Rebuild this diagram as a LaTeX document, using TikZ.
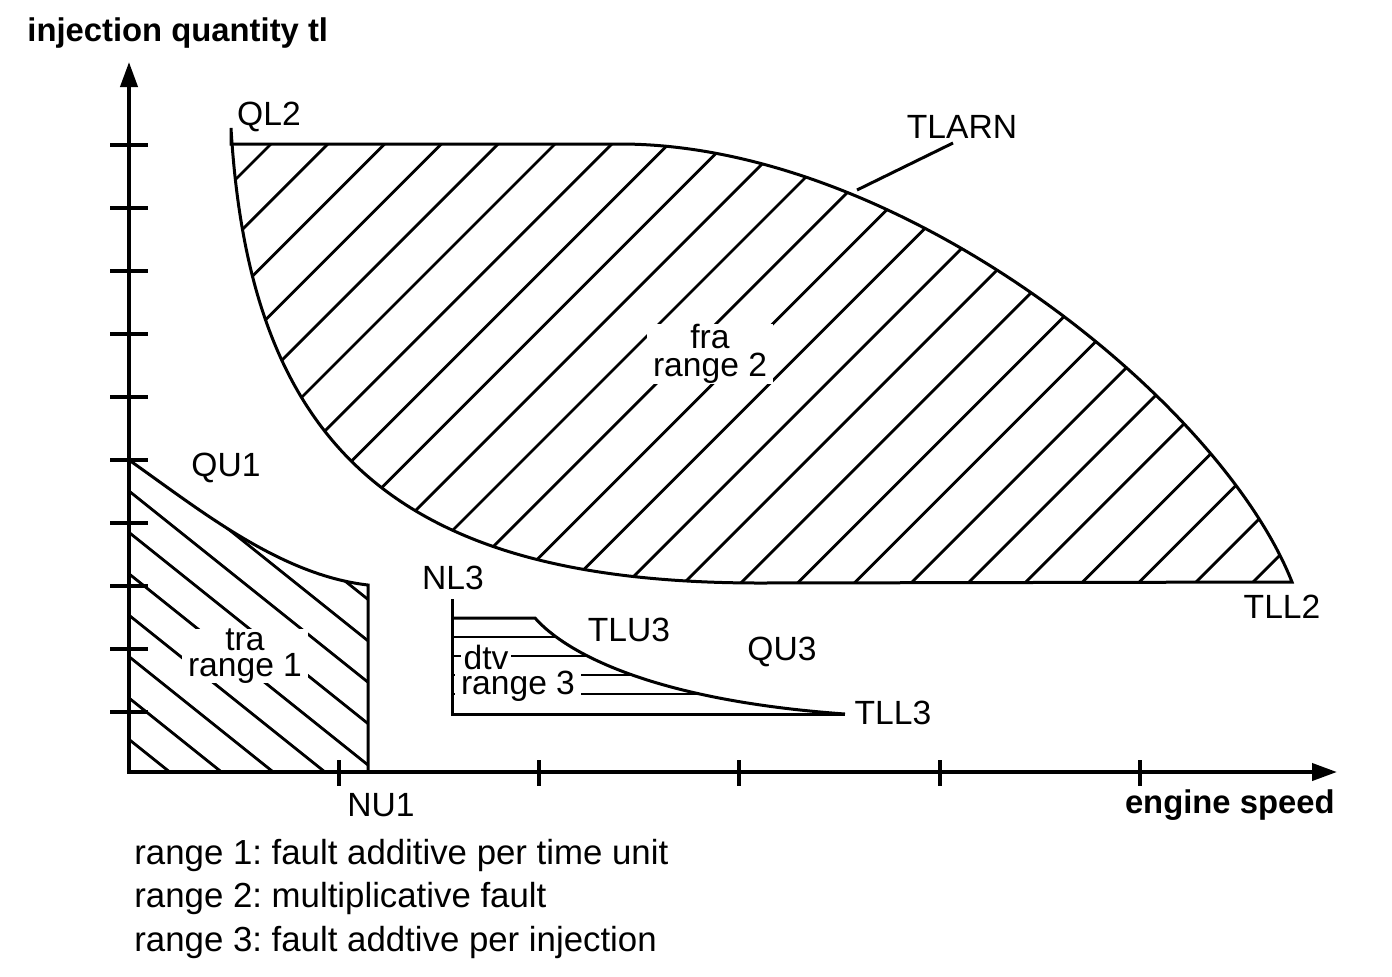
\documentclass[tikz,border=0pt]{standalone}
\usepackage{fontspec}
\setmainfont{Liberation Sans}
\usetikzlibrary{arrows.meta}
\frenchspacing
\begin{document}
\begin{tikzpicture}[x=0.5pt,y=-0.5pt,
  axis/.style={line width=2pt, line join=miter},
  tickmark/.style={line width=1.7pt},
  bound/.style={line width=1.5pt},
  hatch/.style={line width=1.4pt},
  lbl/.style={font=\fontsize{16.8}{20}\selectfont, inner sep=0pt},
  boxlbl/.style={lbl, fill=white, inner xsep=3pt, inner ysep=0pt},
  stacklbl/.style={boxlbl, align=center},
  leglbl/.style={font=\fontsize{17.4}{20}\selectfont, inner sep=0pt, anchor=base west},
  boldlbl/.style={font=\fontsize{16.4}{20}\selectfont\bfseries, inner sep=0pt},
  ]
\useasboundingbox (0,0) rectangle (1392,976);
\fill[white] (0,0) rectangle (1392,976);

\def\regionone{(129,460) .. controls (200,510) and (280,575) .. (368,585) -- (368,772) -- (129,772)}
\def\regiontwo{(231,128) .. controls (250,450) and (400,583) .. (760,583) -- (1292,582) .. controls (1220,400) and (900,144) .. (620,144) -- (231,144)}
\def\regionthree{(452,618) -- (535,618) .. controls (565,652) and (650,700) .. (845,714) -- (452,714)}

% hatching range 1
\begin{scope}
  \clip \regionone -- cycle;
  \foreach \k in {0,...,8} {
    \draw[hatch] (110,{393+41.4*\k}) -- (390,{617+41.4*\k});
  }
\end{scope}

% hatching range 2
\begin{scope}
  \clip \regiontwo -- cycle;
  \foreach \k [evaluate=\k as \cc using 415+56.8*\k] in {0,...,27} {
    \draw[hatch] ({\cc-700},700) -- ({\cc-100},100);
  }
\end{scope}

% hatching range 3
\begin{scope}
  \clip \regionthree -- cycle;
  \foreach \y in {637,656,675,694} {
    \draw[hatch] (440,\y) -- (860,\y);
  }
\end{scope}

% boundaries
\draw[bound] \regionone -- cycle;
\draw[bound] \regiontwo -- cycle;
\draw[bound] (452,599) -- (452,714) -- (845,714);
\draw[bound] (452,618) -- (535,618) .. controls (565,652) and (650,700) .. (845,714);

% axes
\coordinate (O) at (129,772);
\coordinate (ytip) at (129,62);
\coordinate (xtip) at (1337,772);
\draw[axis,{Triangle[length=12.5pt,width=8.5pt]}-{Triangle[length=12.5pt,width=8.5pt]}] (ytip) -- (O) -- (xtip);
\foreach \y in {145,208,...,712} {
  \draw[tickmark] (110,\y) -- (148,\y);
}
\foreach \x in {339,539,739,940,1140} {
  \draw[tickmark] (\x,760) -- (\x,786);
}

% TLARN leader
\coordinate (tlarnfoot) at (953,143);
\coordinate (tlarncurve) at (857,190);
\draw[bound] (tlarnfoot) -- (tlarncurve);

% labels
\node[boldlbl, anchor=base west] (ylab) at (27,41) {injection quantity tl};
\node[boldlbl, anchor=base east] (xlab) at (1335,813) {engine speed};
\node[lbl] (ql2) at (269,117) {QL2};
\node[lbl] (tlarn) at (962,127) {TLARN};
\node[stacklbl, font=\fontsize{16.8}{14}\selectfont] (r2) at (710,354) {fra\\range 2};
\node[lbl] (qu1) at (226,468) {QU1};
\node[stacklbl, font=\fontsize{16.8}{13}\selectfont] (r1) at (245,656) {tra\\range 1};
\node[lbl] (nl3) at (453,578) {NL3};
\node[lbl] (tlu3) at (629,630) {TLU3};
\node[lbl] (qu3) at (782,652) {QU3};
\node[lbl] (tll3) at (893,713) {TLL3};
\node[lbl] (tll2) at (1282,607) {TLL2};
\node[lbl] (nu1) at (381,805) {NU1};
\node[lbl, fill=white, inner xsep=1.5pt, inner ysep=0pt] (dtv) at (486,657) {dtv};
\node[lbl, fill=white, inner xsep=3pt, inner ysep=0pt] (r3) at (518,686) {range 3};

% legend
\node[leglbl] (leg1) at (134,864) {range 1: fault additive per time unit};
\node[leglbl] (leg2) at (134,907) {range 2: multiplicative fault};
\node[leglbl] (leg3) at (134,951) {range 3: fault addtive per injection};
\end{tikzpicture}
\end{document}
